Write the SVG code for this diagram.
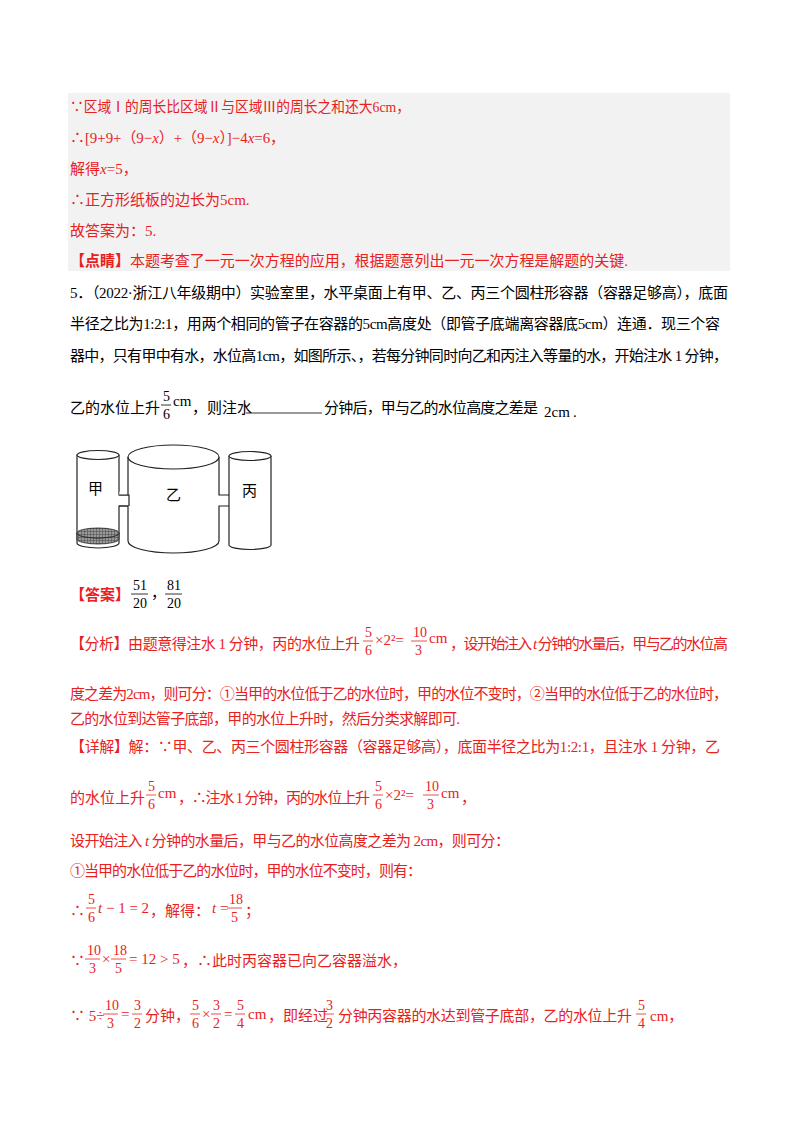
<svg xmlns="http://www.w3.org/2000/svg" width="800" height="1132" viewBox="0 0 800 1132">
<defs>
<style>
text{font-family:"Liberation Serif","Noto Sans CJK SC",serif;font-size:15px}
.r{fill:#e8211e}
.k{fill:#000}
.b{font-weight:bold}
.fr{font-size:14px}
.fl{stroke:#000;stroke-width:0.8}
.flr{stroke:#e8211e;stroke-width:0.8}
.cyl{fill:#fff;stroke:#222;stroke-width:1.2}
</style>
<pattern id="hatch" width="3" height="3" patternUnits="userSpaceOnUse"><rect width="3" height="3" fill="#999"/><path d="M0 0H3M0 0V3" stroke="#333" stroke-width="0.8"/></pattern>
</defs>
<rect width="800" height="1132" fill="#fff"/>
<rect x="68" y="93" width="662" height="178" fill="#f2f2f2"/>
<g class="r">
<text x="70" y="112" textLength="340" lengthAdjust="spacingAndGlyphs">∵区域Ⅰ的周长比区域Ⅱ与区域Ⅲ的周长之和还大6cm，</text>
<text x="70" y="143" textLength="215" lengthAdjust="spacingAndGlyphs">∴[9+9+（9−<tspan font-style="italic">x</tspan>）+（9−<tspan font-style="italic">x</tspan>）]−4<tspan font-style="italic">x</tspan>=6，</text>
<text x="70" y="174">解得<tspan font-style="italic">x</tspan>=5，</text>
<text x="70" y="205">∴正方形纸板的边长为5cm.</text>
<text x="70" y="236">故答案为：5.</text>
<text x="70" y="266" textLength="558"><tspan class="b">【点睛】</tspan>本题考查了一元一次方程的应用，根据题意列出一元一次方程是解题的关键.</text>
</g>
<g class="k">
<text x="70" y="298" textLength="658">5．（2022·浙江八年级期中）实验室里，水平桌面上有甲、乙、丙三个圆柱形容器（容器足够高），底面</text>
<text x="70" y="329" textLength="650">半径之比为1:2:1，用两个相同的管子在容器的5cm高度处（即管子底端离容器底5cm）连通．现三个容</text>
<text x="70" y="361" textLength="658">器中，只有甲中有水，水位高1cm，如图所示、，若每分钟同时向乙和丙注入等量的水，开始注水 1 分钟，</text>
<text x="70" y="413">乙的水位上升</text>
<text class="fr" x="163" y="401">5</text><line class="fl" x1="161" y1="405" x2="171" y2="405"/><text class="fr" x="163" y="419">6</text>
<text x="173" y="406">cm</text>
<text x="192" y="413">，则注水</text>
<line class="fl" x1="246" y1="413" x2="322" y2="413"/>
<text x="324" y="413" textLength="214">分钟后，甲与乙的水位高度之差是</text>
<text x="544" y="417">2cm</text><text x="573" y="417">.</text>
</g>
<g id="figure">
<path class="cyl" d="M77 455V543A21 5 0 0 0 119 543V506H129V495H119V455"/>
<ellipse class="cyl" cx="98" cy="455" rx="21" ry="4.5"/>
<path d="M77 533A21 5 0 0 0 119 533V539A21 5 0 0 1 77 539Z" fill="url(#hatch)" stroke="#222" stroke-width="0.8"/>
<ellipse cx="98" cy="533" rx="21" ry="5" fill="url(#hatch)" stroke="#222" stroke-width="0.8"/>
<path class="cyl" d="M128 457V495H119M119 506H128V541A45.5 12 0 0 0 219 541V506H229M229 495H219V457"/>
<ellipse class="cyl" cx="173.5" cy="457" rx="45.5" ry="12"/>
<path class="cyl" d="M229 456V545A21 4.5 0 0 0 271 545V456"/>
<ellipse class="cyl" cx="250" cy="456" rx="21" ry="4.5"/>
<text x="88" y="494" font-size="13" font-family="Noto Sans CJK SC,sans-serif">甲</text>
<text x="166" y="500" font-size="13" font-family="Noto Sans CJK SC,sans-serif">乙</text>
<text x="242" y="496" font-size="13" font-family="Noto Sans CJK SC,sans-serif">丙</text>
</g>
<g>
<text class="r b" x="70" y="600">【答案】</text>
<text class="fr k" x="133" y="590">51</text><line class="fl" x1="131" y1="594" x2="148" y2="594"/><text class="fr k" x="133" y="608">20</text>
<text class="k" x="151" y="598">，</text>
<text class="fr k" x="167" y="590">81</text><line class="fl" x1="165" y1="594" x2="182" y2="594"/><text class="fr k" x="167" y="608">20</text>
</g>
<g class="r">
<text x="70" y="649" textLength="290">【分析】由题意得注水 1 分钟，丙的水位上升</text>
<text class="fr" x="365" y="637">5</text><line class="flr" x1="363" y1="641" x2="373" y2="641"/><text class="fr" x="365" y="655">6</text>
<text x="375" y="645">×2²=</text>
<text class="fr" x="413" y="637">10</text><line class="flr" x1="411" y1="641" x2="427" y2="641"/><text class="fr" x="415" y="655">3</text>
<text x="429" y="643">cm</text>
<text x="450" y="649" textLength="278">，设开始注入 <tspan font-style="italic">t</tspan> 分钟的水量后，甲与乙的水位高</text>
<text x="70" y="699" textLength="658">度之差为2cm，则可分：①当甲的水位低于乙的水位时，甲的水位不变时，②当甲的水位低于乙的水位时，</text>
<text x="70" y="724" textLength="390">乙的水位到达管子底部，甲的水位上升时，然后分类求解即可.</text>
<text x="70" y="752" textLength="650">【详解】解：∵甲、乙、丙三个圆柱形容器（容器足够高），底面半径之比为1:2:1，且注水 1 分钟，乙</text>
<text x="70" y="803">的水位上升</text>
<text class="fr" x="148" y="791">5</text><line class="flr" x1="146" y1="795" x2="156" y2="795"/><text class="fr" x="148" y="809">6</text>
<text x="158" y="798">cm</text>
<text x="178" y="803" textLength="192">，∴注水 1 分钟，丙的水位上升</text>
<text class="fr" x="375" y="791">5</text><line class="flr" x1="373" y1="795" x2="383" y2="795"/><text class="fr" x="375" y="809">6</text>
<text x="385" y="800">×2²=</text>
<text class="fr" x="425" y="791">10</text><line class="flr" x1="423" y1="795" x2="439" y2="795"/><text class="fr" x="427" y="809">3</text>
<text x="441" y="798">cm</text><text x="461" y="803">，</text>
<text x="70" y="846" textLength="440">设开始注入 <tspan font-style="italic">t</tspan> 分钟的水量后，甲与乙的水位高度之差为 2cm，则可分：</text>
<text x="70" y="876" textLength="352">①当甲的水位低于乙的水位时，甲的水位不变时，则有：</text>
<text x="70" y="916">∴</text>
<text class="fr" x="88" y="904">5</text><line class="flr" x1="86" y1="908" x2="96" y2="908"/><text class="fr" x="88" y="922">6</text>
<text x="98" y="913"><tspan font-style="italic">t</tspan> − 1 = 2</text>
<text x="150" y="916">，解得：</text>
<text x="212" y="913"><tspan font-style="italic">t</tspan> =</text>
<text class="fr" x="229" y="904">18</text><line class="flr" x1="227" y1="908" x2="242" y2="908"/><text class="fr" x="231" y="922">5</text>
<text x="245" y="916">；</text>
<text x="70" y="966">∵</text>
<text class="fr" x="87" y="955">10</text><line class="flr" x1="85" y1="959" x2="100" y2="959"/><text class="fr" x="89" y="973">3</text>
<text x="102" y="964">×</text>
<text class="fr" x="113" y="955">18</text><line class="flr" x1="111" y1="959" x2="126" y2="959"/><text class="fr" x="115" y="973">5</text>
<text x="129" y="964">= 12 &gt; 5</text>
<text x="182" y="966">，∴此时丙容器已向乙容器溢水，</text>
<text x="70" y="1021">∵ 5÷</text>
<text class="fr" x="105" y="1010">10</text><line class="flr" x1="103" y1="1014" x2="118" y2="1014"/><text class="fr" x="107" y="1028">3</text>
<text x="121" y="1019">=</text>
<text class="fr" x="134" y="1010">3</text><line class="flr" x1="132" y1="1014" x2="142" y2="1014"/><text class="fr" x="134" y="1028">2</text>
<text x="145" y="1021">分钟，</text>
<text class="fr" x="192" y="1010">5</text><line class="flr" x1="190" y1="1014" x2="200" y2="1014"/><text class="fr" x="192" y="1028">6</text>
<text x="202" y="1019">×</text>
<text class="fr" x="213" y="1010">3</text><line class="flr" x1="211" y1="1014" x2="221" y2="1014"/><text class="fr" x="213" y="1028">2</text>
<text x="224" y="1019">=</text>
<text class="fr" x="237" y="1010">5</text><line class="flr" x1="235" y1="1014" x2="245" y2="1014"/><text class="fr" x="237" y="1028">4</text>
<text x="248" y="1019">cm</text>
<text x="268" y="1021">，即经过</text>
<text class="fr" x="326" y="1010">3</text><line class="flr" x1="324" y1="1014" x2="334" y2="1014"/><text class="fr" x="326" y="1028">2</text>
<text x="338" y="1021" textLength="294">分钟丙容器的水达到管子底部，乙的水位上升</text>
<text class="fr" x="638" y="1010">5</text><line class="flr" x1="636" y1="1014" x2="646" y2="1014"/><text class="fr" x="638" y="1028">4</text>
<text x="650" y="1021">cm，</text>
</g>
</svg>
